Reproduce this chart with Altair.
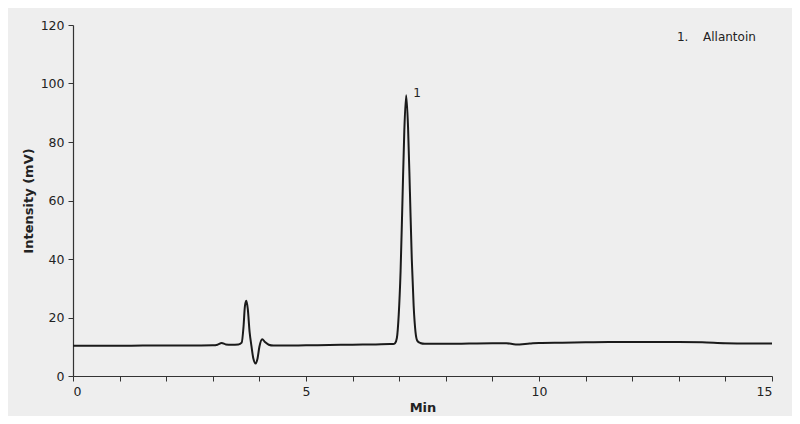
import altair as alt
import pandas as pd

# Chromatogram trace (time in min, intensity in mV)
times = [0.0, 0.5, 1.0, 1.5, 2.0, 2.5, 3.0, 3.10, 3.19, 3.28, 3.40, 3.55, 3.62, 3.66, 3.69, 3.72,
         3.75, 3.79, 3.83, 3.87, 3.92, 3.96, 4.00, 4.06, 4.12, 4.20, 4.30, 4.50, 5.0, 5.5, 6.0,
         6.5, 6.80, 6.87, 6.91, 6.95, 6.99, 7.03, 7.07, 7.11, 7.15, 7.19, 7.23, 7.27, 7.31, 7.35,
         7.39, 7.45, 7.55, 8.0, 8.5, 9.0, 9.3, 9.5, 9.8, 10.0, 10.5, 11.0, 11.5, 12.0, 12.5, 13.0,
         13.5, 14.0, 14.5, 15.0]
intensity = [10.3, 10.3, 10.3, 10.4, 10.4, 10.4, 10.5, 10.7, 11.3, 10.8, 10.7, 10.8, 11.4, 17.0,
             24.0, 25.7, 23.0, 15.0, 10.2, 6.0, 4.3, 6.0, 10.0, 12.6, 11.6, 10.7, 10.4, 10.4, 10.5,
             10.6, 10.7, 10.8, 10.9, 10.9, 11.2, 13.0, 21.0, 36.0, 60.0, 84.0, 96.0, 85.0, 63.0,
             40.0, 24.0, 15.0, 12.0, 11.3, 11.0, 11.0, 11.1, 11.2, 11.2, 10.8, 11.1, 11.3, 11.4,
             11.5, 11.6, 11.6, 11.6, 11.6, 11.5, 11.2, 11.1, 11.1]

peak_labels = ["1"]
peak_x = [7.15]
peak_y = [96.0]

legend_text = ["1.", "Allantoin"]
legend_x = [12.96, 13.52]
legend_y = [116.0, 116.0]

x_ticks = list(range(0, 16))
y_ticks = [0, 20, 40, 60, 80, 100, 120]

df = pd.DataFrame({"t": times, "v": intensity})
df_peaks = pd.DataFrame({"t": peak_x, "v": peak_y, "label": peak_labels})
df_leg = pd.DataFrame({"t": legend_x, "v": legend_y, "label": legend_text})

FONT = "DejaVu Sans"

xscale = alt.Scale(domain=[0, 15], nice=False, zero=False)
yscale = alt.Scale(domain=[0, 120], nice=False)

line = alt.Chart(df).mark_line(color="#1a1a1a", strokeWidth=2, interpolate="monotone").encode(
    x=alt.X("t:Q", scale=xscale,
            axis=alt.Axis(title="Min", values=x_ticks,
                          labelExpr="datum.value % 5 === 0 ? datum.label : ''",
                          grid=False, tickSize=5, labelPadding=4, titlePadding=4)),
    y=alt.Y("v:Q", scale=yscale,
            axis=alt.Axis(title="Intensity (mV)", values=y_ticks, grid=False,
                          tickSize=5, labelPadding=4, titlePadding=5)),
)

peaks = alt.Chart(df_peaks).mark_text(
    align="left", baseline="middle", dx=7, dy=-2, font=FONT, fontSize=12, color="#222222"
).encode(x=alt.X("t:Q", scale=xscale), y=alt.Y("v:Q", scale=yscale), text="label:N")

leg = alt.Chart(df_leg).mark_text(
    align="left", baseline="middle", font=FONT, fontSize=12, color="#222222"
).encode(x=alt.X("t:Q", scale=xscale), y=alt.Y("v:Q", scale=yscale), text="label:N")

chart = alt.layer(line, peaks, leg).properties(
    width=699, height=351,
    background="#eeeeee",
    autosize=alt.AutoSizeParams(type="none"),
    padding={"left": 65, "top": 17, "right": 20, "bottom": 40},
).configure_view(stroke=None).configure_axis(
    domainColor="#333333", tickColor="#333333", domainWidth=1.2,
    labelFont=FONT, labelFontSize=12.5, labelColor="#222222",
    titleFont=FONT, titleFontSize=13, titleFontWeight="bold", titleColor="#222222",
)

chart.save("out.html", embed_options={"renderer": "svg", "actions": False})
